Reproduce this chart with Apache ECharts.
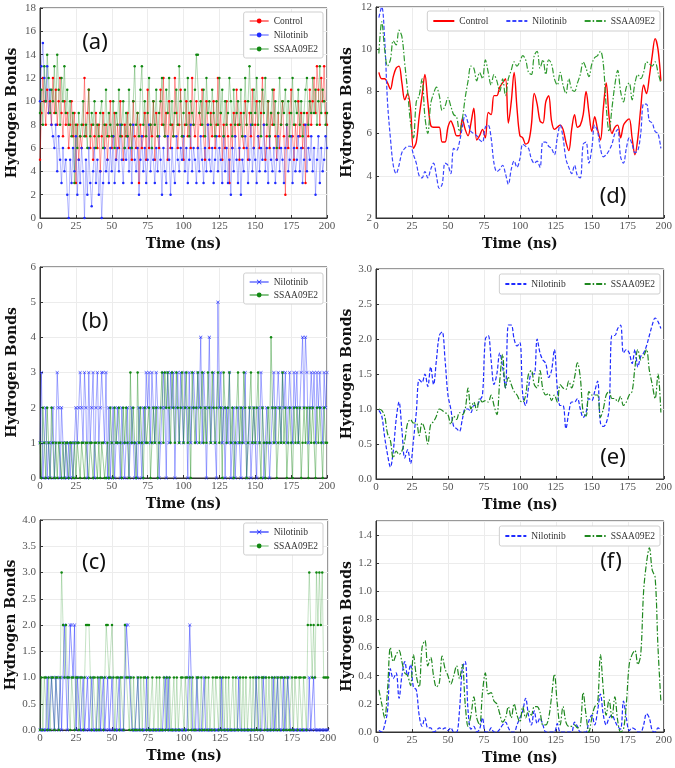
<!DOCTYPE html>
<html><head><meta charset="utf-8">
<script src="https://cdn.jsdelivr.net/npm/echarts@6/dist/echarts.min.js"></script>
<style>html,body{margin:0;padding:0;background:#fff}#c{width:675px;height:768px}</style>
</head><body><div id="c"></div>
<script>
// ---------- tick labels / axis info ----------
const timeTicks = [0, 25, 50, 75, 100, 125, 150, 175, 200];
const legendNames3 = ['Control', 'Nilotinib', 'SSAA09E2'];
const legendNames2 = ['Nilotinib', 'SSAA09E2'];
const panelLabels = ['(a)', '(b)', '(c)', '(d)', '(e)', '(f)'];

// ---------- raw trajectories (1 ns sampling, t = 0..200) ----------
const rawStart = 0, rawStep = 1;
const ctrlA = [5,9,12,10,8,11,9,10,8,12, 9,11,8,10,12,9,7,10,8,9, 6,8,10,7,9,3,8,5,7,6, 8,12,7,9,11,6,8,5,7,9,
 6,8,4,7,9,6,8,5,7,10, 6,7,9,5,8,6,10,7,5,8, 7,9,6,8,5,10,7,6,9,3, 8,6,7,9,5,11,6,8,7,10,
 5,9,7,6,11,8,12,7,9,5, 10,6,8,7,12,9,6,8,11,7, 5,8,10,7,9,6,12,8,7,10, 6,9,8,11,7,5,10,8,6,9,
 7,10,6,8,12,7,9,5,8,6, 10,7,3,8,6,9,7,11,8,5, 9,7,6,10,8,5,9,7,11,6, 8,10,7,6,9,12,8,5,7,10,
 6,9,8,11,7,5,9,6,8,10, 7,2,8,6,9,11,7,5,8,6, 10,7,9,6,8,3,9,7,11,8, 10,12,9,13,11,8,12,10,13,9, 8];
const niloA = [10,13,15,12,10,13,9,11,8,7, 6,8,4,7,5,3,6,4,5,2, 0,5,3,6,4,7,2,5,3,6, 4,0,5,2,6,3,1,4,6,3,
 5,2,4,0,3,6,4,5,3,6, 4,7,3,5,6,4,8,5,3,6, 5,7,4,6,3,8,5,4,6,2, 5,7,4,6,3,5,8,4,6,5,
 3,6,4,7,5,2,6,4,3,7, 5,2,6,4,3,7,5,4,6,5, 7,4,6,3,5,8,4,6,5,3, 6,4,7,5,3,6,4,8,5,4,
 6,3,5,7,4,6,5,3,7,4, 6,3,5,2,6,4,7,5,3,6, 2,5,4,7,6,3,5,8,4,6, 5,3,7,4,6,5,8,4,6,3,
 7,5,4,6,3,5,7,4,6,5, 3,6,8,4,5,7,3,6,4,5, 7,4,6,3,5,8,4,6,5,7, 4,6,2,5,7,3,6,4,5,7, 6];
const ssaaA = [9,11,8,13,10,14,12,9,11,10, 13,9,14,11,8,12,10,13,9,11, 8,10,7,9,3,8,6,9,7,8, 10,7,8,6,11,7,9,8,10,6,
 8,7,9,10,6,8,11,7,9,8, 7,10,6,9,8,11,7,8,10,6, 9,7,11,8,6,10,13,8,9,7, 11,13,8,10,7,9,12,8,6,10,
 8,11,7,9,10,12,8,7,11,9, 12,8,10,7,9,11,8,13,10,7, 9,11,8,12,7,10,9,8,11,14, 14,9,10,8,11,7,12,9,10,8,
 11,9,7,10,8,12,9,11,7,10, 8,9,12,10,7,11,8,9,10,8, 11,7,9,12,8,10,13,9,8,11, 9,12,8,10,7,11,9,12,8,10,
 7,9,11,8,10,6,9,12,8,10, 9,11,8,10,7,9,12,8,10,9, 11,8,10,7,9,11,12,8,10,9, 12,9,11,8,10,13,9,11,10,8, 9];

const niloB = [1,3,0,1,2,0,1,0,1,2, 0,1,3,2,0,2,1,0,1,0, 1,0,1,0,1,2,1,2,3,2, 1,3,2,0,3,1,2,3,0,2,
 3,1,2,3,3,1,3,0,2,0, 1,2,0,1,2,1,0,2,1,0, 1,2,0,1,2,1,0,1,0,2, 1,0,2,1,3,2,3,1,3,2,
 1,3,2,0,1,2,3,2,0,3, 1,3,2,3,0,2,3,1,3,2, 1,3,2,0,3,1,2,3,2,1, 3,2,4,1,3,2,0,2,4,1,
 2,3,1,0,5,2,3,1,2,0, 2,1,3,0,1,2,0,1,2,1, 0,2,1,3,0,1,2,0,1,2, 1,0,2,1,3,2,0,1,2,1,
 0,1,2,3,1,2,3,2,1,3, 2,3,1,2,3,2,1,3,2,3, 1,2,3,4,2,4,3,1,2,3, 2,3,1,3,2,3,2,1,3,2, 3];
const ssaaB = [1,0,2,1,0,2,1,0,2,1, 0,1,0,1,1,0,1,0,1,1, 0,1,1,0,1,0,1,1,0,1, 1,0,1,1,0,1,1,0,1,1,
 0,1,0,1,1,0,0,1,0,2, 1,0,2,1,1,2,1,0,2,1, 2,1,0,3,1,2,1,0,3,1, 2,1,0,2,1,1,2,0,1,2,
 1,2,0,1,2,3,1,3,2,3, 2,1,3,2,1,3,2,1,2,3, 1,2,3,1,2,0,3,2,1,2, 3,1,2,3,1,2,1,3,2,1,
 3,2,1,2,3,1,2,0,3,2, 1,2,3,1,2,0,1,2,3,1, 2,1,3,2,0,1,2,3,1,2, 1,2,3,1,0,2,1,0,1,2,
 1,4,2,1,2,0,1,2,1,3, 1,2,0,1,2,1,0,2,1,2, 1,2,0,1,2,1,2,0,2,1, 2,1,0,2,1,2,1,0,2,1, 1];

const niloC = [0,0,0,0,0,1,0,0,1,1, 0,1,1,0,1,0,1,2,1,0, 1,2,2,1,2,0,1,1,0,0, 1,0,0,1,0,0,1,0,0,0,
 0,1,0,0,1,0,0,1,0,0, 1,0,0,0,0,1,0,0,0,1, 2,2,1,1,0,0,0,0,1,0, 0,0,0,0,1,0,0,0,0,0,
 0,0,0,0,0,0,0,1,0,1, 0,0,0,0,0,0,0,0,0,0, 0,0,0,1,2,1,0,0,0,1, 0,0,0,0,1,0,0,0,0,0,
 0,0,0,0,0,0,1,0,0,0, 0,0,0,0,0,0,0,0,1,0, 0,0,0,0,0,0,0,0,0,0, 1,1,0,0,0,1,1,0,0,0,
 0,0,1,0,0,1,0,0,0,1, 0,0,1,1,0,0,0,0,0,0, 0,0,0,0,0,0,0,1,0,0, 1,0,0,0,0,0,0,0,0,0, 0];
const ssaaC = [0,1,0,1,1,0,1,0,1,1, 0,1,1,0,1,3,2,1,2,1, 1,0,1,1,0,1,1,0,1,1, 0,1,2,2,2,1,0,1,1,0,
 1,0,1,1,0,1,2,2,1,1, 2,1,0,1,1,0,1,1,0,2, 1,1,0,1,0,1,0,0,1,0, 1,0,1,1,0,1,0,0,1,0,
 0,1,0,1,0,0,1,0,1,0, 1,0,0,1,0,1,0,0,1,1, 0,1,1,0,1,0,1,0,0,1, 1,0,1,0,0,1,0,1,0,0,
 1,0,1,1,0,1,0,1,0,1, 0,1,0,0,1,0,1,0,0,1, 0,1,0,1,0,0,1,0,1,0, 1,0,1,0,1,1,0,1,0,1,
 0,1,0,1,0,1,0,1,1,0, 1,0,1,0,0,1,0,1,1,0, 1,1,0,1,1,0,2,3,2,1, 2,1,3,2,3,2,3,1,1,1, 1];

// ---------- running averages (t = 2..198, 2 ns step) ----------
const avgStart = 2, avgStep = 2;
const ctrlD = [8.9,8.6,8.6,8.4,8.1,8.7,9.1,9.2,8.4,7.6, 7.9,7.2,5.3,5.6,6.8,7.8,8.8,7.5,6.4,6.3,
 6.3,6.3,5.6,5.6,6.3,6.6,6.3,5.9,5.9,6.7, 6.2,5.9,6.5,7.2,5.7,5.9,6.2,5.8,7.0,6.9,
 7.8,7.8,8.2,8.4,8.6,6.5,7.5,8.9,7.2,5.9, 5.8,5.5,5.6,6.4,7.9,7.4,6.6,6.5,7.5,7.8,
 6.6,6.2,6.3,6.4,6.2,5.6,5.2,6.2,6.9,6.3, 6.4,6.9,8.0,7.0,6.1,6.8,6.2,5.7,7.2,8.4,
 6.8,6.0,6.3,6.4,5.8,6.4,6.6,6.7,5.8,5.0, 5.8,7.2,8.3,7.9,8.7,9.7,10.5,10.0,8.5];
const niloD = [11.5,12.0,10.5,7.5,5.8,4.5,4.1,4.5,5.1,5.3, 5.4,5.4,5.0,4.6,4.0,3.9,4.2,3.9,4.3,4.6,
 4.0,3.4,3.6,4.6,4.5,4.1,5.3,5.2,5.6,6.3, 6.9,6.5,6.1,6.0,5.9,5.7,5.6,6.3,6.4,5.8,
 4.6,4.2,4.3,4.5,4.1,3.6,4.3,4.7,4.4,4.8, 5.5,5.4,5.3,4.8,4.6,4.7,4.4,5.6,5.6,5.4,
 5.3,5.0,5.8,6.4,5.8,4.8,4.4,4.1,4.5,4.0, 3.9,5.5,5.6,4.6,5.3,6.4,6.1,5.3,4.9,5.0,
 5.2,5.5,6.0,6.2,4.9,4.6,5.3,5.8,5.5,5.1, 5.2,6.0,7.4,7.4,6.6,6.5,6.1,6.0,5.3];
const ssaaD = [9.8,11.3,10.0,9.2,9.5,10.4,10.2,10.9,10.6,9.3, 8.0,6.5,5.8,7.5,7.8,8.6,6.8,6.0,7.4,7.9,
 8.2,7.8,7.1,7.3,7.7,7.3,6.9,6.8,6.1,6.7, 7.7,8.5,9.2,9.1,8.5,8.9,8.6,9.5,8.9,8.3,
 8.8,8.5,8.0,8.6,7.8,8.6,9.0,9.4,9.2,9.4, 9.7,9.5,8.9,8.8,9.7,9.9,9.1,9.5,8.8,9.5,
 9.3,8.6,8.3,8.9,8.3,7.9,8.6,8.1,8.0,8.4, 8.8,9.4,9.1,8.7,9.3,9.6,9.7,9.9,9.3,7.3,
 6.1,7.2,8.3,9.0,8.0,7.5,8.2,8.4,7.6,8.4, 8.8,8.6,8.9,9.4,9.3,9.2,9.4,8.9,8.4];

const niloE = [0.98,0.9,0.6,0.35,0.17,0.4,0.85,1.1,0.7,0.3, 0.42,0.22,0.55,0.95,1.42,1.38,1.5,1.32,1.6,1.35,
 1.7,2.05,2.1,1.7,1.2,1.0,0.75,0.72,0.68,0.85, 1.0,1.0,0.95,1.05,1.05,1.12,1.2,2.0,2.05,1.7,
 1.35,1.5,1.8,1.6,1.3,2.2,2.2,2.0,1.9,1.95, 1.2,1.05,1.3,1.5,1.5,2.0,1.8,1.7,1.65,1.45,
 1.55,1.85,1.3,1.05,1.05,0.72,0.95,1.1,1.1,1.15, 1.0,0.88,0.95,1.15,1.12,1.25,1.4,0.8,0.75,0.8,
 1.0,2.05,2.05,2.15,2.2,1.8,1.85,1.8,1.65,1.85, 1.6,1.75,1.8,1.9,2.05,2.2,2.3,2.25,2.15];
const ssaaE = [1.0,0.98,0.9,0.65,0.55,0.3,0.4,0.35,0.4,0.55, 0.8,0.85,0.8,0.8,0.62,0.8,0.7,0.5,0.78,0.82,
 0.9,1.0,0.98,0.95,0.92,0.78,0.9,0.85,0.95,0.92, 1.0,1.3,1.0,1.1,0.98,1.15,1.1,1.12,1.1,1.2,
 1.05,0.92,1.4,1.78,1.3,1.45,1.35,1.25,1.2,1.12, 1.1,1.2,1.5,1.55,1.35,1.3,1.55,1.28,1.2,1.22,
 1.12,1.2,1.1,1.35,1.3,1.28,1.4,1.3,1.45,1.66, 1.45,0.95,0.9,1.25,1.2,1.2,1.2,0.88,1.0,1.2,
 1.25,1.15,1.15,1.1,1.18,1.05,1.1,1.2,1.25,1.6, 1.85,1.7,1.75,1.85,1.55,1.35,1.15,1.5,0.95];

const niloF = [0.01,0.0,0.05,0.15,0.45,0.38,0.42,0.24,0.4,0.5, 0.4,0.48,0.32,0.3,0.12,0.04,0.1,0.03,0.03,0.0,
 0.01,0.03,0.02,0.03,0.01,0.03,0.0,0.0,0.15,0.45, 0.5,0.15,0.02,0.04,0.0,0.02,0.1,0.0,0.0,0.03,
 0.0,0.0,0.02,0.05,0.07,0.03,0.0,0.0,0.05,0.1, 0.15,0.24,0.12,0.05,0.15,0.06,0.1,0.05,0.0,0.0,
 0.0,0.0,0.06,0.0,0.0,0.0,0.0,0.0,0.07,0.04, 0.0,0.0,0.0,0.08,0.12,0.05,0.15,0.27,0.12,0.05,
 0.1,0.12,0.08,0.04,0.02,0.22,0.1,0.01,0.03,0.02, 0.0,0.0,0.05,0.13,0.1,0.01,0.0,0.03,0.01];
const ssaaF = [0.3,0.2,0.1,0.3,0.6,0.5,0.55,0.58,0.5,0.42, 0.4,0.33,0.55,0.4,0.32,0.6,0.65,0.47,0.53,0.4,
 0.32,0.35,0.54,0.45,0.4,0.34,0.4,0.47,0.38,0.48, 0.2,0.04,0.12,0.25,0.1,0.05,0.28,0.42,0.27,0.28,
 0.22,0.2,0.13,0.07,0.1,0.18,0.1,0.2,0.12,0.07, 0.18,0.1,0.15,0.12,0.18,0.18,0.14,0.05,0.05,0.1,
 0.25,0.41,0.2,0.05,0.18,0.07,0.04,0.04,0.05,0.03, 0.04,0.28,0.12,0.0,0.1,0.18,0.2,0.55,0.3,0.12,
 0.23,0.1,0.25,0.08,0.0,0.02,0.2,0.48,0.55,0.58, 0.48,0.55,1.0,1.2,1.31,1.15,1.1,0.6,0.22];

// ---------- build ----------
const pairs = (t0, step, vals) => vals.map((v, i) => [t0 + i * step, v]);
const serifLab = 'Liberation Serif';
const titleFont = 'DejaVu Serif';
const RED = '#ff0000', BLUE = '#1f2bff', GREEN = '#118811';
const XMARK = 'path://M0,1L1,0L5,4L9,0L10,1L6,5L10,9L9,10L5,6L1,10L0,9L4,5Z';

const gridsPos = [
  {left: 40, top: 8, width: 287, height: 210},    // a
  {left: 40, top: 267, width: 287, height: 211},  // b
  {left: 40, top: 520, width: 288, height: 210},  // c
  {left: 376, top: 7, width: 288, height: 211},   // d
  {left: 376, top: 269, width: 288, height: 210}, // e
  {left: 376, top: 521, width: 288, height: 211}  // f
];
const yRanges = [
  {min: 0, max: 18, interval: 2, dec: 0},
  {min: 0, max: 6, interval: 1, dec: 0},
  {min: 0, max: 4, interval: 0.5, dec: 1},
  {min: 2, max: 12, interval: 2, dec: 0},
  {min: 0, max: 3, interval: 0.5, dec: 1},
  {min: 0, max: 1.5, interval: 0.2, dec: 1, hideMax: true}
];

const grid = gridsPos.map(g => Object.assign({show: true, borderColor: '#333', borderWidth: 1, backgroundColor: 'transparent'}, g));
const xAxis = gridsPos.map((g, i) => ({
  type: 'value', gridIndex: i, min: timeTicks[0], max: timeTicks[timeTicks.length - 1], interval: 25,
  name: 'Time (ns)', nameLocation: 'middle', nameGap: 19,
  nameTextStyle: {fontFamily: titleFont, fontWeight: 'bold', fontSize: 14, color: '#111'},
  axisLine: {show: true, onZero: false, lineStyle: {color: '#333'}},
  axisTick: {show: true, inside: true, length: 3, lineStyle: {color: '#333'}},
  axisLabel: {fontFamily: serifLab, fontSize: 11, color: '#555', margin: 3},
  splitLine: {show: true, lineStyle: {color: '#ececec', width: 1}}
}));
const yAxis = gridsPos.map((g, i) => ({
  type: 'value', gridIndex: i, min: yRanges[i].min, max: yRanges[i].max, interval: yRanges[i].interval,
  name: 'Hydrogen Bonds', nameLocation: 'middle', nameGap: i < 3 ? 21 : 22,
  nameTextStyle: {fontFamily: titleFont, fontWeight: 'bold', fontSize: 14, color: '#111'},
  axisLine: {show: true, onZero: false, lineStyle: {color: '#333'}},
  axisTick: {show: true, inside: true, length: 3, lineStyle: {color: '#333'}},
  axisLabel: {fontFamily: serifLab, fontSize: 11, color: '#555', margin: 4,
    showMaxLabel: !yRanges[i].hideMax,
    formatter: v => v.toFixed(yRanges[i].dec)},
  splitLine: {show: true, lineStyle: {color: '#ececec', width: 1}}
}));

function noisy(name, gi, vals, color, symbol, size, lineOp) {
  return {
    name: name, type: 'line', xAxisIndex: gi, yAxisIndex: gi,
    data: pairs(rawStart, rawStep, vals),
    symbol: symbol, symbolSize: size, showSymbol: true, showAllSymbol: true,
    itemStyle: {color: color, opacity: 1},
    lineStyle: {color: color, width: 0.8, opacity: lineOp},
    emphasis: {disabled: true}, silent: true
  };
}
function smooth(name, gi, vals, color, type, width) {
  return {
    name: name, type: 'line', xAxisIndex: gi, yAxisIndex: gi,
    data: pairs(avgStart, avgStep, vals), smooth: 0.35,
    symbol: 'none', itemStyle: {color: color},
    lineStyle: {color: color, width: width, type: type},
    emphasis: {disabled: true}, silent: true
  };
}
const DASH = [4, 2], DASHDOT = [6, 2, 1.5, 2];
const series = [
  noisy('a:Control', 0, ctrlA, RED, 'circle', 2.5, 0.5),
  noisy('a:Nilotinib', 0, niloA, BLUE, 'circle', 2.5, 0.4),
  noisy('a:SSAA09E2', 0, ssaaA, GREEN, 'circle', 2.5, 0.4),
  noisy('b:Nilotinib', 1, niloB, BLUE, XMARK, 3.5, 0.5),
  noisy('b:SSAA09E2', 1, ssaaB, GREEN, 'circle', 2.5, 0.5),
  noisy('c:Nilotinib', 2, niloC, BLUE, XMARK, 3.5, 0.6),
  noisy('c:SSAA09E2', 2, ssaaC, GREEN, 'circle', 2.5, 0.3),
  smooth('d:Control', 3, ctrlD, RED, 'solid', 1.4),
  smooth('d:Nilotinib', 3, niloD, '#3a45ff', DASH, 1.2),
  smooth('d:SSAA09E2', 3, ssaaD, '#2f9a2f', DASHDOT, 1.2),
  smooth('e:Nilotinib', 4, niloE, '#1f2bff', DASH, 1.2),
  smooth('e:SSAA09E2', 4, ssaaE, '#1f881f', DASHDOT, 1.2),
  smooth('f:Nilotinib', 5, niloF, '#1f2bff', DASH, 1.2),
  smooth('f:SSAA09E2', 5, ssaaF, '#1f881f', DASHDOT, 1.2)
];

const legBase = {
  formatter: n => n.split(':')[1], selectedMode: false,
  textStyle: {fontFamily: serifLab, fontSize: 9.5, color: '#333'},
  backgroundColor: '#fff', borderColor: '#cfcfcf', borderWidth: 1, borderRadius: 2
};
const noSym = {itemStyle: {opacity: 0}};
const legend = [
  Object.assign({}, legBase, {orient: 'vertical', right: 352, top: 12, itemWidth: 19, itemHeight: 6, itemGap: 4, padding: [4, 5],
    data: legendNames3.map(n => 'a:' + n)}),
  Object.assign({}, legBase, {orient: 'vertical', right: 352, top: 273, itemWidth: 19, itemHeight: 6, itemGap: 3, padding: [4, 5],
    data: legendNames2.map(n => 'b:' + n)}),
  Object.assign({}, legBase, {orient: 'vertical', right: 352, top: 523, itemWidth: 19, itemHeight: 6, itemGap: 4, padding: [4, 5],
    data: legendNames2.map(n => 'c:' + n)}),
  Object.assign({}, legBase, noSym, {orient: 'horizontal', right: 15, top: 11, itemWidth: 21, itemHeight: 8, itemGap: 17, padding: [5, 5],
    data: legendNames3.map(n => 'd:' + n)}),
  Object.assign({}, legBase, noSym, {orient: 'horizontal', right: 15, top: 274, itemWidth: 21, itemHeight: 8, itemGap: 18, padding: [5, 5],
    data: legendNames2.map(n => 'e:' + n)}),
  Object.assign({}, legBase, noSym, {orient: 'horizontal', right: 15, top: 526, itemWidth: 21, itemHeight: 8, itemGap: 18, padding: [5, 5],
    data: legendNames2.map(n => 'f:' + n)})
];

const labelPos = [[95, 43], [95, 322], [94, 563], [613, 197], [613, 458], [611, 562]];
const graphic = panelLabels.map((t, i) => ({
  type: 'text', x: labelPos[i][0], y: labelPos[i][1], z: 100,
  style: {text: t, fill: '#111', font: '22px "Noto Sans"', textAlign: 'center', textVerticalAlign: 'middle'}
}));

const chart = echarts.init(document.getElementById('c'), null, {renderer: 'canvas'});
chart.setOption({animation: false, grid, xAxis, yAxis, series, legend, graphic, tooltip: {show: false}});
</script></body></html>
